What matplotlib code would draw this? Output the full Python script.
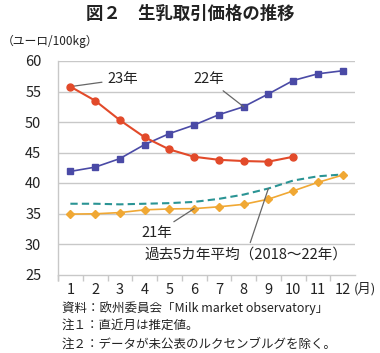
import matplotlib
matplotlib.use("Agg")
import matplotlib.pyplot as plt

plt.rcParams['font.family'] = ['Noto Sans CJK JP', 'DejaVu Sans']

months = list(range(1, 13))
month_labels = [str(m) for m in months]
y_ticks = [25, 30, 35, 40, 45, 50, 55, 60]

v23 = [55.8, 53.5, 50.3, 47.5, 45.5, 44.3, 43.8, 43.6, 43.5, 44.3]
v22 = [41.9, 42.6, 44.0, 46.3, 48.1, 49.5, 51.2, 52.5, 54.6, 56.8, 57.9, 58.4]
v21 = [34.9, 34.95, 35.15, 35.6, 35.75, 35.8, 36.1, 36.5, 37.35, 38.7, 40.1, 41.3]
avg5 = [36.6, 36.6, 36.5, 36.6, 36.7, 36.9, 37.4, 38.1, 39.1, 40.4, 41.1, 41.4]

fig = plt.figure(figsize=(3.8, 3.53), dpi=100)
ax = fig.add_axes([58/380, 1-274.5/353, (355-58)/380, (274.5-61)/353])

grid_c = '#c8c8c8'
for y in y_ticks[1:]:
    ax.axhline(y, color=grid_c, lw=1.0, zorder=0)

ax.plot(months[:len(v23)], v23, color='#E24A2A', lw=1.5, marker='o', ms=5, zorder=4)
ax.plot(months, v22, color='#4A4AA6', lw=1.2, marker='s', ms=5, zorder=3)
ax.plot(months, v21, color='#F0A834', lw=1.2, marker='D', ms=4.5, zorder=3)
ax.plot(months, avg5, color='#2A9494', lw=1.5, ls=(0, (3.5, 2)), zorder=2)

ax.set_xlim(0.5, 12.5)
ax.set_ylim(25, 60)
ax.set_yticks(y_ticks)
ax.set_xticks(months)
ax.set_xticklabels(month_labels)
ax.set_xticks([m + 0.5 for m in range(0, 12)] + [0.5], minor=True)
ax.tick_params(axis='x', which='major', length=0, pad=6, labelsize=10.5, colors='#222222')
ax.tick_params(axis='x', which='minor', length=4, color=grid_c, width=1)
ax.tick_params(axis='y', length=0, pad=12, labelsize=10.5, colors='#222222')
for s in ['top', 'right']:
    ax.spines[s].set_visible(False)
ax.spines['left'].set_color(grid_c)
ax.spines['bottom'].set_color(grid_c)
ax.spines['bottom'].set_linewidth(1.0)
ax.spines['left'].set_linewidth(1.0)

ann_kw = dict(fontsize=10.5, color='#222222',
              arrowprops=dict(arrowstyle='-', color='#666666', lw=0.9, shrinkA=2, shrinkB=0))
ax.annotate('23年', xy=(months[0], v23[0]), xytext=(2.5, 57.0), va='center', ha='left', **ann_kw)
ax.annotate('22年', xy=(months[7], v22[7]), xytext=(7.2, 57.0), va='center', ha='right', **ann_kw)
ax.annotate('21年', xy=(months[5], v21[5]), xytext=(5.1, 31.8), va='center', ha='right', **ann_kw)
ax.annotate('過去5カ年平均（2018～22年）', xy=(months[8], avg5[8]), xytext=(8.1, 28.2),
            va='center', ha='center', **ann_kw)

fig.text(190/380, 1-14/353, '図２　生乳取引価格の推移', ha='center', va='center',
         fontsize=12.5, fontweight='bold', color='#222222')
fig.text(2/380, 1-41/353, '（ユーロ/100kg）', ha='left', va='center', fontsize=8.5, color='#222222')
fig.text(354/380, 1-289/353, '(月)', ha='left', va='center', fontsize=9.5, color='#222222')

notes = ['資料：欧州委員会「Milk market observatory」',
         '注１：直近月は推定値。',
         '注２：データが未公表のルクセンブルグを除く。']
for i, n in enumerate(notes):
    fig.text(62/380, 1-(308 + i*18)/353, n, ha='left', va='center', fontsize=9, color='#222222')

fig.savefig('out.png', dpi=100)
